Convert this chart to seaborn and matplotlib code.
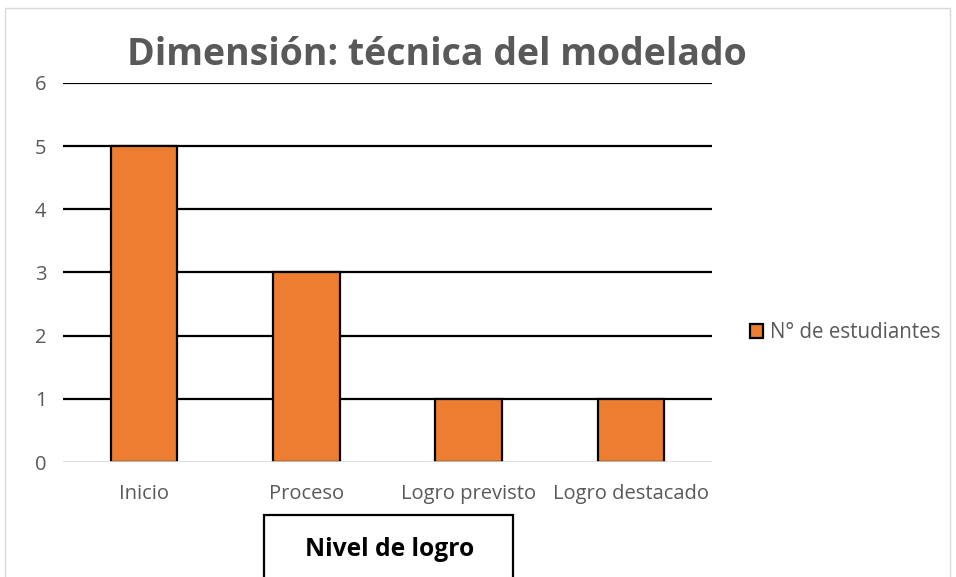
import pandas as pd
import seaborn as sns
import matplotlib.pyplot as plt
from matplotlib.patches import Rectangle

# Data
niveles = ['Inicio', 'Proceso', 'Logro previsto', 'Logro destacado']
estudiantes = [5, 3, 1, 1]
serie = 'N° de estudiantes'

df = pd.DataFrame({'nivel': niveles, 'n': estudiantes})

sns.set_style('white')
plt.rcParams['font.family'] = ['Open Sans', 'DejaVu Sans']

fig = plt.figure(figsize=(9.56, 5.77), dpi=100)
ax = fig.add_axes([0.0659, 0.1993, 0.679, 0.657])

sns.barplot(data=df, x='nivel', y='n', color='#ED7D31', width=0.41,
            edgecolor='black', linewidth=1.6, label=serie, ax=ax, zorder=3,
            saturation=1)

ax.set_ylim(0, 6)
ax.set_yticks(range(0, 7))
ax.set_xlim(-0.5, 3.5)
for y in range(1, 7):
    ax.axhline(y, color='black', lw=1.6, zorder=1)
ax.axhline(0, color='#D9D9D9', lw=1.2, zorder=4)
for s in ax.spines.values():
    s.set_visible(False)
ax.tick_params(axis='both', length=0, labelsize=14.5, labelcolor='#595959')
ax.tick_params(axis='y', pad=12)
ax.tick_params(axis='x', pad=16)
ax.set_xlabel('')
ax.set_ylabel('')

fig.text(437 / 956, 1 - 65 / 577, 'Dimensión: técnica del modelado', ha='center',
         va='baseline', fontsize=27, fontweight='bold', color='#595959')

# x-axis title in a box
fig.patches.append(Rectangle((264 / 956, -0.05), 249 / 956, 0.05 + 62 / 577,
                             transform=fig.transFigure, fill=False,
                             edgecolor='black', lw=1.6))
fig.text(390 / 956, 1 - 549 / 577, 'Nivel de logro', ha='center', va='center',
         fontsize=17.7, fontweight='bold', color='black')

# outer chart border
fig.patches.append(Rectangle((5 / 956, -0.05), 945 / 956, 0.05 + 569 / 577,
                             transform=fig.transFigure, fill=False,
                             edgecolor='#D9D9D9', lw=1))

leg = ax.legend(loc='center left', bbox_to_anchor=(750 / 956, 1 - 333 / 577),
                bbox_transform=fig.transFigure, frameon=False, fontsize=14.8,
                handlelength=0.65, handleheight=0.65, handletextpad=0.3,
                borderaxespad=0, borderpad=0)
for t in leg.get_texts():
    t.set_color('#595959')

fig.savefig('out.png', dpi=100)
